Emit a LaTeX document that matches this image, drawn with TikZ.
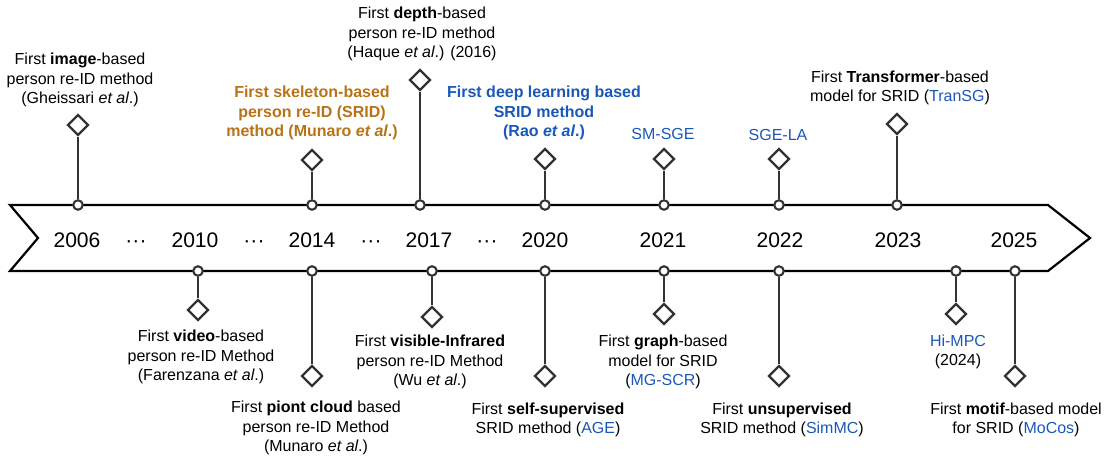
\documentclass[tikz,border=0pt]{standalone}
\usepackage{fontspec}
\setmainfont{Liberation Sans}
\usetikzlibrary{shapes.geometric,positioning}
\definecolor{stemgray}{RGB}{51,51,51}
\definecolor{srorange}{RGB}{184,115,22}
\definecolor{srblue}{RGB}{25,88,185}
\newcommand{\etal}{\textit{et al}.}
\newcommand{\meth}[1]{\textcolor{srblue}{#1}}

\begin{document}
\begin{tikzpicture}[x=0.02cm, y=-0.02cm,
        tick/.style={circle, draw=stemgray, fill=white, line width=1.2pt, inner sep=0pt, minimum size=0.19cm},
        milestone/.style={diamond, draw=stemgray, fill=white, line width=1.3pt, inner sep=0pt, minimum width=0.42cm, minimum height=0.42cm},
        stem/.style={draw=stemgray, line width=1.35pt},
        note/.style={align=center, inner sep=0pt, font=\fontsize{9.1}{11.1}\selectfont},
        hinote/.style={note, font=\fontsize{9.1}{11.1}\selectfont\bfseries},
        year/.style={anchor=base, inner sep=0pt, font=\fontsize{12}{14}\selectfont}]
        \useasboundingbox (0,0) rectangle (1107,460);
        \draw[line width=1.25pt] (10,205) -- (1048,205) -- (1090,238) -- (1048,271) -- (10,271) -- (38,238) -- cycle;
        \foreach \yr/\x in {2006/77, 2010/195, 2014/312, 2017/429, 2020/545, 2021/663, 2022/780, 2023/898, 2025/1014}
            \node[year] (y\yr) at (\x,247) {\yr};
        \foreach \i/\x in {1/136, 2/254, 3/371, 4/487}
            \node[year] (dots\i) at (\x,247) {···};
        \foreach \n/\x in {Image/78, Skeleton/312, Depth/420, Rao/545, SMSGE/664, SGELA/779, TranSG/897}
            \node[tick] (t\n) at (\x,205) {};
        \foreach \n/\x in {Video/198, Cloud/312, VisIR/432, Self/545, Graph/664, Unsup/779, HiMPC/956, Motif/1015}
            \node[tick] (t\n) at (\x,271) {};
        \foreach \n/\y in {Image/125, Skeleton/160, Depth/80, Rao/159, SMSGE/159, SGELA/159, TranSG/124,
                Video/310, Cloud/376, VisIR/317, Self/376, Graph/314, Unsup/376, HiMPC/314, Motif/376} {
            \node[milestone] (d\n) at (t\n |- 0,\y) {};
            \draw[stem] (t\n) -- (d\n);
        }
        \node[note] (nImage) at (80,80) {First \textbf{image}-based\\person re-ID method\\(Gheissari \etal)};
        \node[note] (nDepth) at (422,34) {First \textbf{depth}-based\\person re-ID method\\(Haque \etal) (2016)};
        \node[hinote, text=srorange] (nSkeleton) at (312,113) {First skeleton-based\\person re-ID (SRID)\\method (Munaro \etal)};
        \node[hinote, text=srblue] (nRao) at (544,113) {First deep learning based\\SRID method\\(Rao \etal)};
        \node[note, text=srblue] (nSMSGE) at (663,134) {SM-SGE};
        \node[note, text=srblue] (nSGELA) at (778,135) {SGE-LA};
        \node[note] (nTranSG) at (900,88) {First \textbf{Transformer}-based\\model for SRID (\meth{TranSG})};
        \node[note] (nVideo) at (201,357) {First \textbf{video}-based\\person re-ID Method\\(Farenzana \etal)};
        \node[note] (nCloud) at (316,428) {First \textbf{piont cloud} based\\person re-ID Method\\(Munaro \etal)};
        \node[note] (nVisIR) at (430,362) {First \textbf{visible-Infrared}\\person re-ID Method\\(Wu \etal)};
        \node[note] (nSelf) at (548,420) {First \textbf{self-supervised}\\SRID method (\meth{AGE})};
        \node[note] (nGraph) at (663,362) {First \textbf{graph}-based\\model for SRID\\(\meth{MG-SCR})};
        \node[note] (nUnsup) at (782,420) {First \textbf{unsupervised}\\SRID method (\meth{SimMC})};
        \node[note] (nHiMPC) at (958,352) {\meth{Hi-MPC}\\(2024)};
        \node[note] (nMotif) at (1016,420) {First \textbf{motif}-based model\\for SRID (\meth{MoCos})};
    \end{tikzpicture}
\end{document}
